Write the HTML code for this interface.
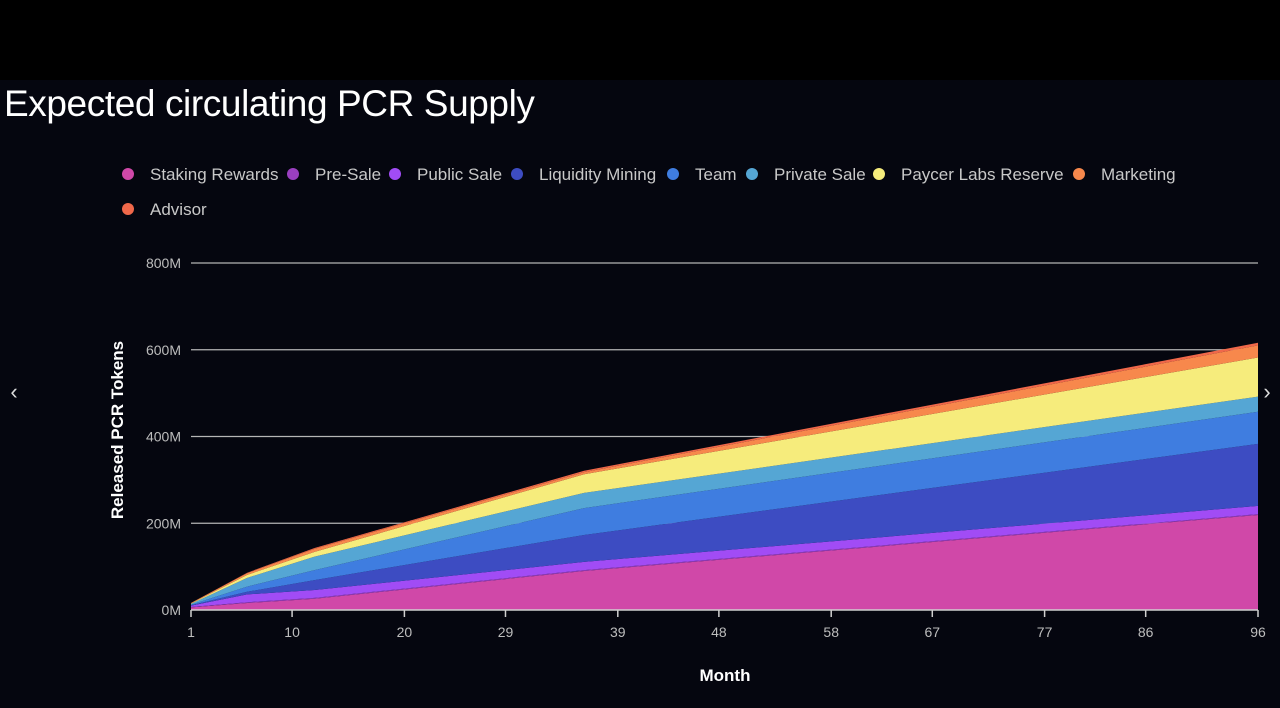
<!DOCTYPE html>
<html><head><meta charset="utf-8"><style>
html,body{margin:0;padding:0;background:#05060f;width:1280px;height:708px;overflow:hidden;font-family:"Liberation Sans",sans-serif;}
#top{position:absolute;left:0;top:0;width:1280px;height:80px;background:#000;}
#title{position:absolute;left:4px;top:83px;font-size:37px;color:#fff;letter-spacing:-0.4px;}
svg{position:absolute;left:0;top:0;}
</style></head><body>
<div id="top"></div>
<div id="title">Expected circulating PCR Supply</div>
<svg id="chart" width="1280" height="708"></svg>
<script>
const months = [1, 6, 12, 36, 96];
const seriesNames = ["Staking Rewards","Pre-Sale","Public Sale","Liquidity Mining","Team","Private Sale","Paycer Labs Reserve","Marketing","Advisor"];
const stakingRewards = [6, 16, 26, 90, 219];
const preSale = [1, 2, 2, 2, 2];
const publicSale = [3, 18, 18, 19, 19];
const liquidityMining = [1, 6, 23, 62, 143];
const team = [1, 12, 23, 62, 74];
const privateSale = [2, 20, 31, 35, 35];
const paycerReserve = [1, 7, 11, 43, 90];
const marketing = [1, 4, 7, 5, 28];
const advisor = [0.5, 1, 2, 3, 6];
const yTicks = [0, 200, 400, 600, 800];
const xTicks = [1, 10, 20, 29, 39, 48, 58, 67, 77, 86, 96];

const colors = ["#d048a8","#9a3fc0","#a14cf5","#3d4cc2","#3f7de0","#55a6d4","#f6ec7c","#f7884c","#f0684a"];
const series = [stakingRewards, preSale, publicSale, liquidityMining, team, privateSale, paycerReserve, marketing, advisor];
const NS = "http://www.w3.org/2000/svg";
const svg = document.getElementById("chart");
const x = m => 191 + (m - 1) * (1258 - 191) / 95;
const y = v => 610 - v * (610 - 263) / 800;
function mk(tag, attrs, parent) {
  const e = document.createElementNS(NS, tag);
  for (const k in attrs) e.setAttribute(k, attrs[k]);
  (parent || svg).appendChild(e);
  return e;
}
yTicks.forEach(t => {
  if (t > 0) {
    const g = mk("line", {x1: 191, x2: 1258, y1: y(t), y2: y(t), stroke: "#b5b5b5", "stroke-width": 1.2});
    
    
  }
  const l = mk("text", {x: 181, y: y(t) + 5, "text-anchor": "end", fill: "#bdbdbd", "font-size": 14});
  l.textContent = t + "M";
  
  
});
let base = months.map(() => 0);
series.forEach((s, i) => {
  const top = base.map((b, j) => b + s[j]);
  let d = "M" + months.map((m, j) => x(m) + "," + y(top[j])).join(" L");
  for (let j = months.length - 1; j >= 0; j--) d += " L" + x(months[j]) + "," + y(base[j]);
  d += " Z";
  const p = mk("path", {d: d, fill: colors[i]});
  
  
  base = top;
});
const ax = mk("line", {x1: 191, x2: 1258, y1: 610, y2: 610, stroke: "#d0d0d0", "stroke-width": 1.5});


xTicks.forEach(t => {
  const tk = mk("line", {x1: x(t), x2: x(t), y1: 610, y2: 617, stroke: "#d0d0d0", "stroke-width": 1.5});
  
  
  const l = mk("text", {x: x(t), y: 637, "text-anchor": "middle", fill: "#bdbdbd", "font-size": 14});
  l.textContent = t;
  
  
});
const xt = mk("text", {x: 725, y: 681, "text-anchor": "middle", fill: "#fff", "font-size": 17, "font-weight": "bold"});
xt.textContent = "Month";


const yt = mk("text", {x: 0, y: 0, transform: "translate(123,430) rotate(-90)", "text-anchor": "middle", fill: "#fff", "font-size": 17, "font-weight": "bold"});
yt.textContent = "Released PCR Tokens";


const legX = [128, 293, 395, 517, 673, 752, 879, 1079, 128];
const legY = [174, 174, 174, 174, 174, 174, 174, 174, 209];
seriesNames.forEach((n, i) => {
  const g = mk("g", {});
  
  
  mk("circle", {cx: legX[i], cy: legY[i], r: 6, fill: colors[i]}, g);
  const t = mk("text", {x: legX[i] + 22, y: legY[i] + 6, fill: "#c8c8c8", "font-size": 17}, g);
  t.textContent = n;
});
[["‹", 14, "prev-arrow"], ["›", 1267, "next-arrow"]].forEach(a => {
  const t = mk("text", {x: a[1], y: 399, "text-anchor": "middle", fill: "#ddd", "font-size": 22});
  t.textContent = a[0];
  
  
});
</script>
</body></html>
